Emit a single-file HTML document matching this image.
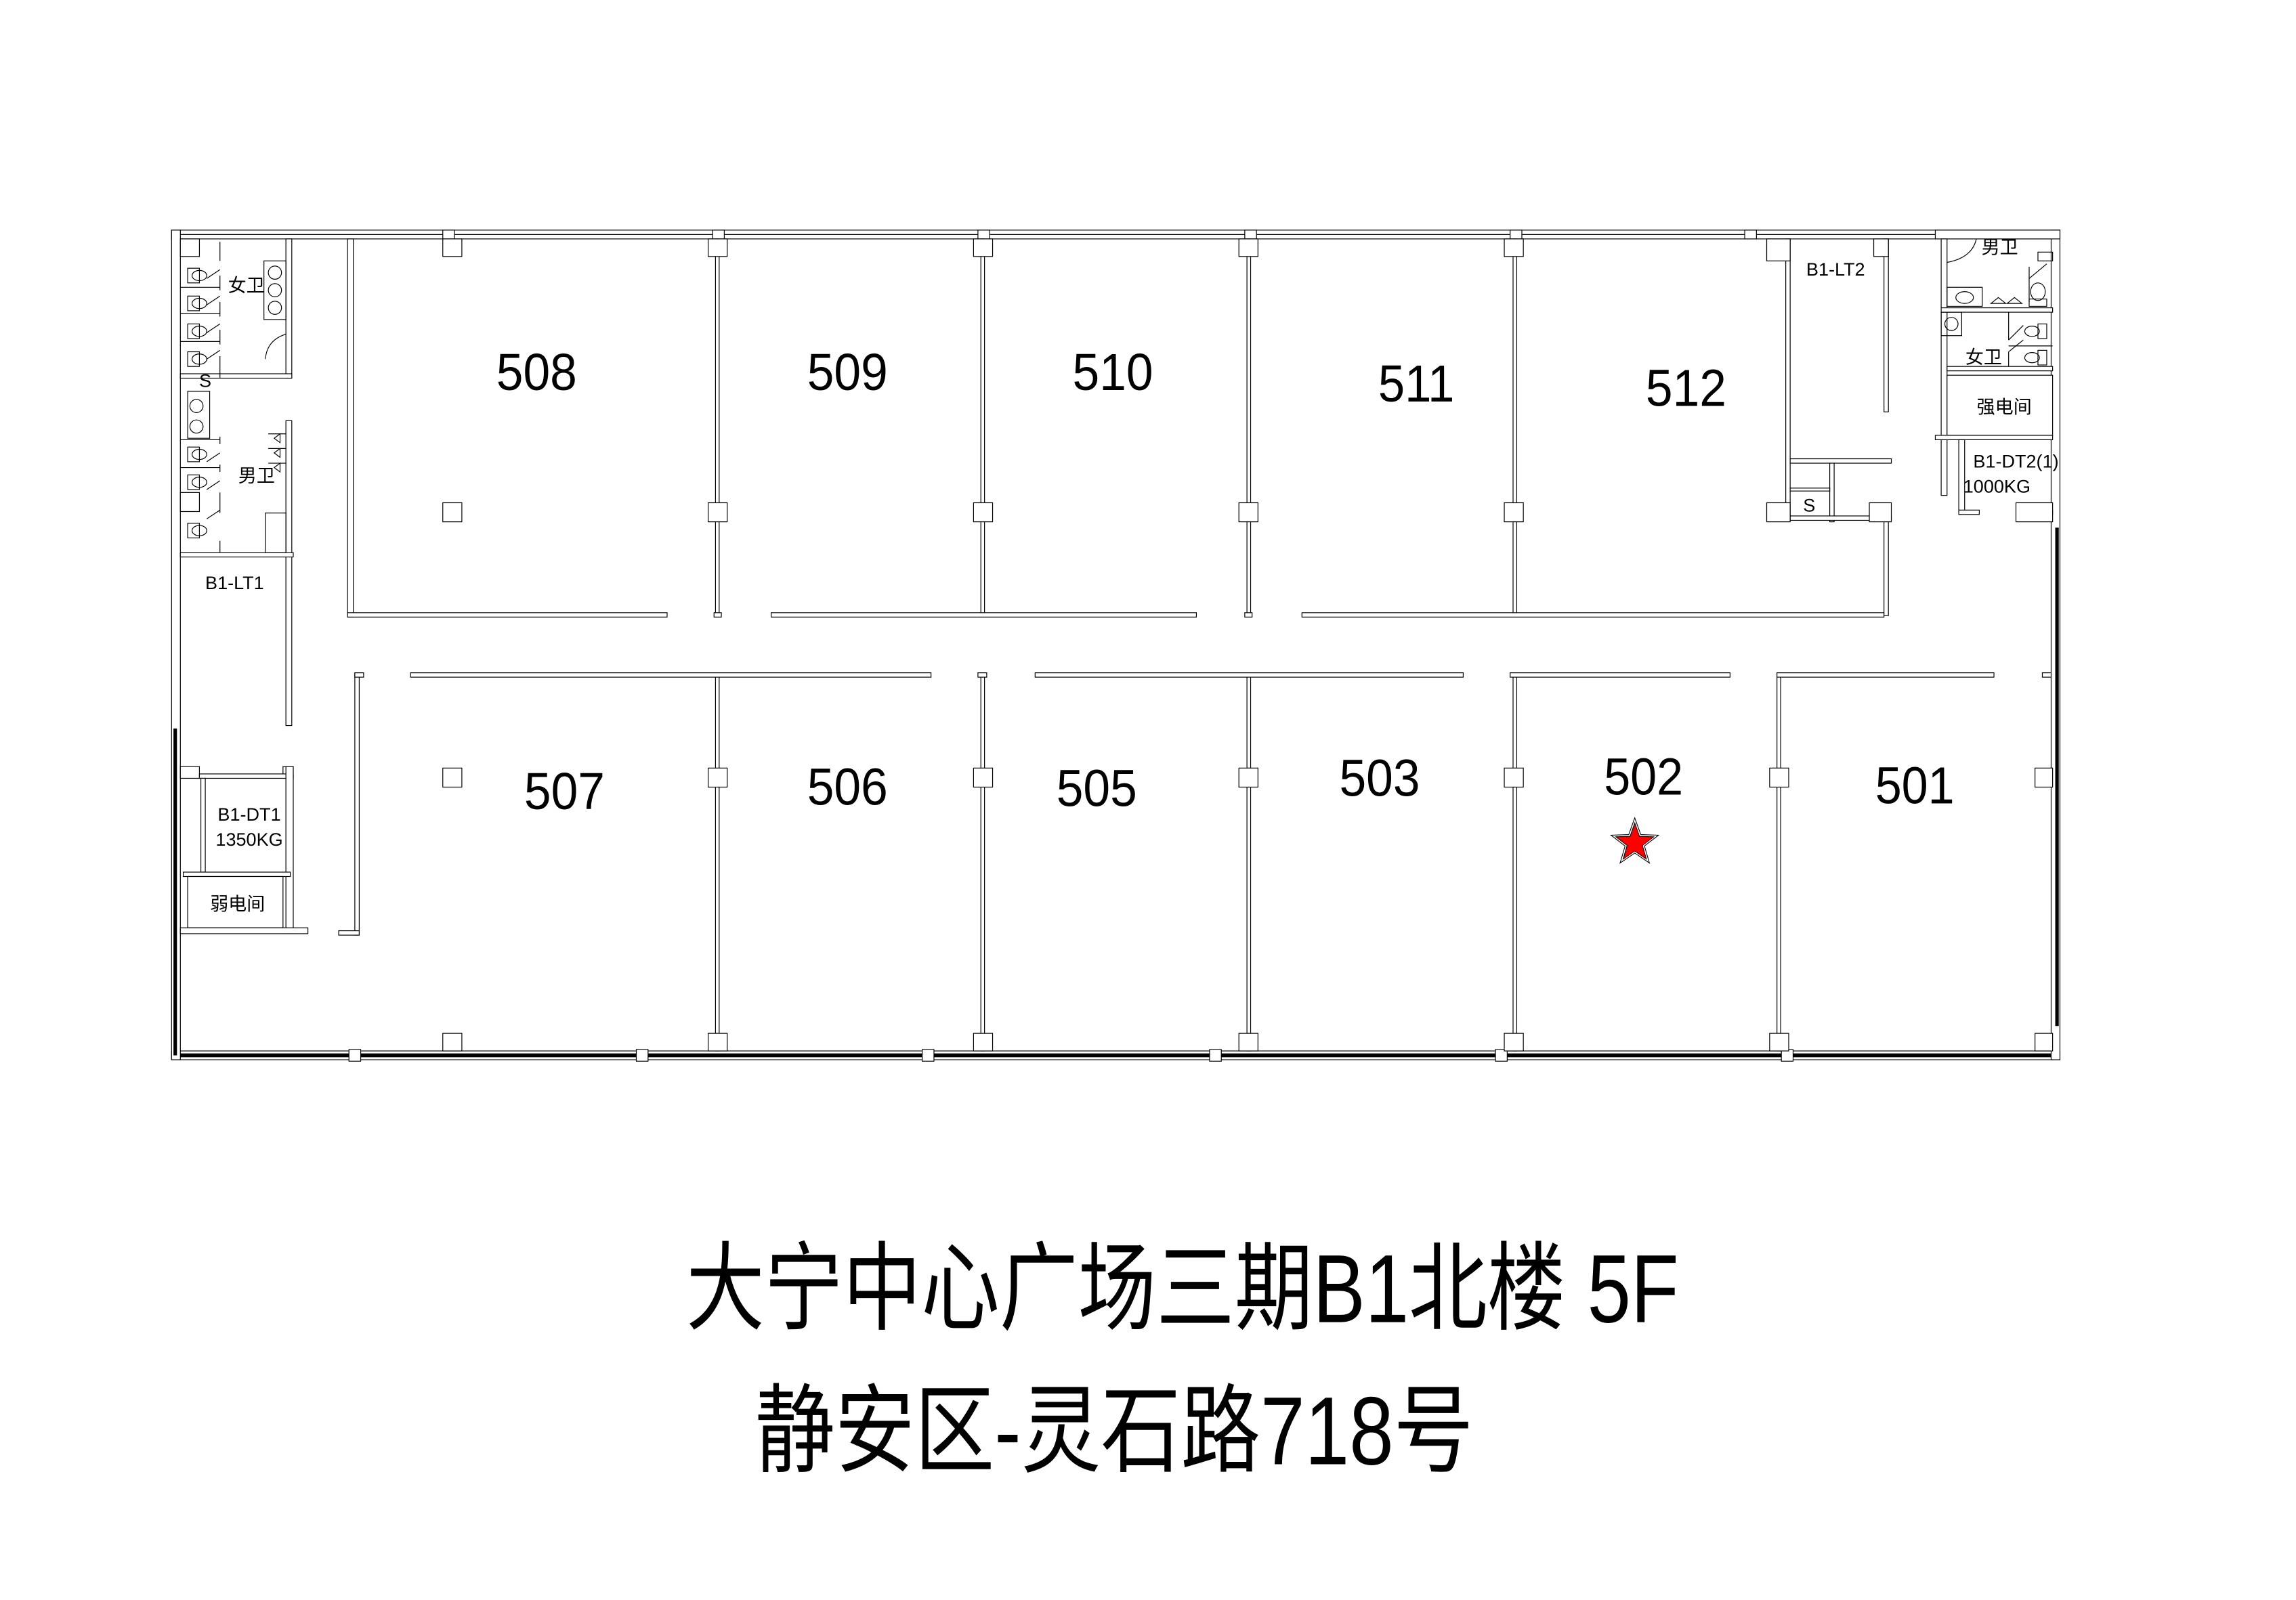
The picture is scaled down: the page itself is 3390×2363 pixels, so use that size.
<!DOCTYPE html>
<html><head><meta charset="utf-8"><style>
html,body{margin:0;padding:0;background:#fff;}
svg{display:block;}
.w{fill:#fff;stroke:#000;stroke-width:0.55;}
.l{fill:none;stroke:#000;stroke-width:0.55;}
.n{font-family:"Liberation Sans",sans-serif;font-size:35.5px;fill:#000;text-anchor:middle;}
.s{font-family:"Liberation Sans","Noto Sans CJK SC",sans-serif;font-size:12.5px;fill:#000;text-anchor:middle;}
.t{font-family:"Liberation Sans","Noto Sans CJK SC",sans-serif;font-size:66px;fill:#000;}
</style></head><body>
<svg width="3390" height="2363" viewBox="0 0 1566 1091.6" xmlns="http://www.w3.org/2000/svg">
<rect width="1566" height="1092" fill="#fff"/>
<!-- outer walls -->
<rect class="w" x="117" y="157" width="1288" height="6"/>
<line class="l" x1="117" y1="160" x2="1405" y2="160"/>
<rect class="w" x="117" y="717" width="1288" height="6"/>
<line x1="123" y1="720" x2="1400" y2="720" stroke="#000" stroke-width="2.6"/>
<rect class="w" x="117" y="157" width="6" height="566"/>
<line x1="119.5" y1="497" x2="119.5" y2="720" stroke="#000" stroke-width="2.4"/>
<rect class="w" x="1399" y="157" width="6" height="566"/>
<line x1="1403" y1="360" x2="1403" y2="700" stroke="#000" stroke-width="2.4"/>
<!-- window mullion gaps on bottom -->
<g class="w">
<rect x="238" y="716" width="8" height="8"/><rect x="434" y="716" width="8" height="8"/><rect x="629" y="716" width="8" height="8"/><rect x="825" y="716" width="8" height="8"/><rect x="1020" y="716" width="8" height="8"/><rect x="1215" y="716" width="8" height="8"/>
<rect x="302" y="157" width="8" height="6"/><rect x="486" y="157" width="8" height="6"/><rect x="667" y="157" width="8" height="6"/><rect x="849" y="157" width="8" height="6"/><rect x="1030" y="157" width="8" height="6"/><rect x="1190" y="157" width="8" height="6"/>
</g>

<!-- top rooms -->
<rect class="w" x="237" y="163" width="4" height="258"/>
<rect class="w" x="237" y="418" width="218" height="3"/>
<rect class="w" x="526" y="418" width="290" height="3"/>
<rect class="w" x="888" y="418" width="397" height="3"/>
<rect class="w" x="487" y="418" width="5" height="3"/>
<rect class="w" x="849" y="418" width="5" height="3"/>
<g class="w">
<rect x="488" y="163" width="2.5" height="255"/>
<rect x="669" y="163" width="2.5" height="255"/>
<rect x="850.5" y="163" width="2.5" height="255"/>
<rect x="1032" y="163" width="2.5" height="255"/>
</g>
<!-- top columns -->
<g class="w">
<rect x="302" y="163" width="13" height="12"/><rect x="302" y="343" width="13" height="13"/>
<rect x="483" y="163" width="13" height="12"/><rect x="483" y="343" width="13" height="13"/>
<rect x="664" y="163" width="13" height="12"/><rect x="664" y="343" width="13" height="13"/>
<rect x="845" y="163" width="13" height="12"/><rect x="845" y="343" width="13" height="13"/>
<rect x="1026" y="163" width="13" height="12"/><rect x="1026" y="343" width="13" height="13"/>
</g>

<!-- bottom rooms -->
<rect class="w" x="280" y="459" width="355" height="3"/>
<rect class="w" x="706" y="459" width="292" height="3"/>
<rect class="w" x="1030" y="459" width="150" height="3"/>
<rect class="w" x="1212" y="459" width="148" height="3"/>
<rect class="w" x="667" y="459" width="6" height="3"/>
<rect class="w" x="1393" y="459" width="6" height="3"/>
<rect class="w" x="242" y="459" width="3" height="179"/>
<rect class="w" x="242" y="459" width="6" height="3"/>
<rect class="w" x="231" y="635" width="14" height="3"/>
<g class="w">
<rect x="488" y="462" width="2.5" height="255"/>
<rect x="669" y="462" width="2.5" height="255"/>
<rect x="850.5" y="462" width="2.5" height="255"/>
<rect x="1032" y="462" width="2.5" height="255"/>
<rect x="1212" y="462" width="2.5" height="255"/>
</g>
<g class="w">
<rect x="302" y="524" width="13" height="13"/><rect x="302" y="705" width="13" height="12"/>
<rect x="483" y="524" width="13" height="13"/><rect x="483" y="705" width="13" height="12"/>
<rect x="664" y="524" width="13" height="13"/><rect x="664" y="705" width="13" height="12"/>
<rect x="845" y="524" width="13" height="13"/><rect x="845" y="705" width="13" height="12"/>
<rect x="1026" y="524" width="13" height="13"/><rect x="1026" y="705" width="13" height="12"/>
<rect x="1207" y="524" width="13" height="13"/><rect x="1207" y="705" width="13" height="12"/>
<rect x="1388" y="524" width="12" height="13"/><rect x="1388" y="705" width="12" height="12"/>
</g>

<!-- left service block -->
<rect class="w" x="195" y="163" width="4" height="95"/>
<rect class="w" x="195" y="287" width="4" height="208"/>
<rect class="w" x="123" y="255" width="76" height="3"/>
<rect class="w" x="123" y="377" width="77" height="3"/>
<rect class="w" x="123" y="163" width="13" height="12"/>
<rect class="w" x="123" y="336" width="13" height="13"/>
<!-- women stalls -->
<g class="l">
<line x1="123" y1="196" x2="150" y2="196"/><line x1="123" y1="214" x2="150" y2="214"/><line x1="123" y1="233" x2="150" y2="233"/>
<line x1="150" y1="165" x2="150" y2="178"/><line x1="150" y1="188" x2="150" y2="198"/><line x1="150" y1="206" x2="150" y2="216"/><line x1="150" y1="225" x2="150" y2="235"/><line x1="150" y1="243" x2="150" y2="258"/>
<line x1="141" y1="190" x2="150" y2="184"/><line x1="141" y1="208" x2="150" y2="202"/><line x1="141" y1="227" x2="150" y2="221"/><line x1="141" y1="245" x2="150" y2="239"/>
</g>
<g class="l">
<rect x="128" y="183" width="8" height="10"/><ellipse cx="136" cy="188" rx="5" ry="3.5"/>
<rect x="128" y="202" width="8" height="10"/><ellipse cx="136" cy="207" rx="5" ry="3.5"/>
<rect x="128" y="221" width="8" height="10"/><ellipse cx="136" cy="226" rx="5" ry="3.5"/>
<rect x="128" y="240" width="8" height="10"/><ellipse cx="136" cy="245" rx="5" ry="3.5"/>
<rect x="180" y="178" width="15" height="40"/>
<circle cx="187.5" cy="186" r="4.5"/><circle cx="187.5" cy="198" r="4.5"/><circle cx="187.5" cy="210" r="4.5"/>
<path d="M195 228 Q182 232 181 245"/>
</g>
<text class="s" x="168" y="199">女卫</text>
<text class="s" x="140" y="264" font-size="10">S</text>
<!-- men -->
<g class="l">
<rect x="128" y="267" width="15" height="32"/>
<circle cx="134" cy="277" r="4.5"/><circle cx="134" cy="291" r="4.5"/>
<line x1="123" y1="300" x2="150" y2="300"/><line x1="123" y1="319" x2="150" y2="319"/>
<line x1="150" y1="298" x2="150" y2="303"/><line x1="150" y1="317" x2="150" y2="322"/><line x1="150" y1="336" x2="150" y2="350"/><line x1="150" y1="369" x2="150" y2="377"/>
<line x1="141" y1="315" x2="150" y2="309"/><line x1="141" y1="334" x2="150" y2="328"/><line x1="141" y1="354" x2="150" y2="348"/>
<rect x="128" y="305" width="8" height="10"/><ellipse cx="136" cy="310" rx="5" ry="3.5"/>
<rect x="128" y="324" width="8" height="10"/><ellipse cx="136" cy="329" rx="5" ry="3.5"/>
<rect x="128" y="357" width="8" height="10"/><ellipse cx="136" cy="362" rx="5" ry="3.5"/>
<path d="M191 296 l-4 3 4 3z M191 306 l-4 3 4 3z M191 316 l-4 3 4 3z"/>
<line x1="183" y1="296" x2="195" y2="296"/><line x1="183" y1="306" x2="195" y2="306"/><line x1="183" y1="316" x2="195" y2="316"/>
<rect x="181" y="350" width="14" height="27"/>
</g>
<text class="s" x="175" y="329">男卫</text>
<text class="s" x="160" y="402" font-size="12">B1-LT1</text>
<!-- DT1 -->
<rect class="w" x="123" y="523" width="13" height="8"/>
<rect class="w" x="193" y="523" width="7" height="8"/>
<rect class="w" x="136" y="528" width="64" height="3"/>
<rect class="w" x="137" y="531" width="3" height="64"/>
<rect class="w" x="195" y="523" width="5" height="114"/>
<rect class="w" x="125" y="595" width="73" height="3"/>
<rect class="w" x="128" y="598" width="65" height="35"/>
<rect class="w" x="123" y="633" width="87" height="4"/>
<text class="s" x="170" y="560" font-size="12.5">B1-DT1</text>
<text class="s" x="170" y="577" font-size="12.5">1350KG</text>
<text class="s" x="162" y="621" font-size="12">弱电间</text>

<!-- LT2 -->
<rect class="w" x="1218" y="163" width="3" height="192"/>
<rect class="w" x="1205" y="163" width="16" height="15"/>
<rect class="w" x="1285" y="163" width="3" height="118"/>
<rect class="w" x="1278" y="163" width="10" height="12"/>
<rect class="w" x="1221" y="313" width="69" height="3"/>
<rect class="w" x="1248" y="316" width="3" height="40"/>
<rect class="w" x="1221" y="333" width="27" height="2"/>
<rect class="w" x="1221" y="352" width="69" height="3"/>
<rect class="w" x="1205" y="343" width="16" height="13"/>
<rect class="w" x="1275" y="343" width="15" height="13"/>
<rect class="w" x="1285" y="356" width="3" height="64"/>
<text class="s" x="1252" y="188" font-size="13">B1-LT2</text>
<text class="s" x="1234" y="349" font-size="11">S</text>

<!-- right service block -->
<rect class="w" x="1320" y="157" width="85" height="6"/>
<rect class="w" x="1324" y="163" width="4" height="175"/>
<rect class="w" x="1324" y="210" width="76" height="3"/>
<rect class="w" x="1328" y="250" width="72" height="3"/>
<rect class="w" x="1328" y="256" width="72" height="41"/>
<rect class="w" x="1320" y="297" width="80" height="3"/>
<rect class="w" x="1336" y="300" width="4" height="50"/>
<rect class="w" x="1336" y="348" width="14" height="3"/>
<rect class="w" x="1381" y="348" width="19" height="3"/>
<rect class="w" x="1375" y="343" width="25" height="13"/>
<g class="l">
<path d="M1328 179 Q1345 176 1348 163"/>
<rect x="1328" y="196" width="24" height="13"/><ellipse cx="1340" cy="203" rx="6" ry="4"/>
<path d="M1358 207 l5 -4 5 4z M1369 207 l5 -4 5 4z"/>
<ellipse cx="1390" cy="199" rx="5" ry="6"/><rect x="1384" y="204" width="12" height="5"/>
<line x1="1384" y1="206" x2="1384" y2="182"/><line x1="1384" y1="190" x2="1396" y2="180"/>
<rect x="1390" y="172" width="10" height="6"/>
<line x1="1370" y1="213" x2="1370" y2="232"/><line x1="1370" y1="232" x2="1380" y2="222"/>
<line x1="1370" y1="236" x2="1400" y2="236"/><line x1="1370" y1="240" x2="1370" y2="250"/><line x1="1370" y1="240" x2="1380" y2="232"/>
<ellipse cx="1386" cy="226" rx="5" ry="3.5"/><rect x="1390" y="221" width="6" height="10"/>
<ellipse cx="1386" cy="244" rx="5" ry="3.5"/><rect x="1390" y="239" width="6" height="10"/>
<rect x="1324" y="213" width="14" height="16"/><circle cx="1331" cy="221" r="4.5"/>
</g>
<text class="s" x="1364" y="173" font-size="12.5">男卫</text>
<text class="s" x="1353" y="248" font-size="12.5">女卫</text>
<text class="s" x="1367" y="282" font-size="12.5">强电间</text>
<text class="s" x="1375" y="319" font-size="13">B1-DT2(1)</text>
<text class="s" x="1362" y="336" font-size="13">1000KG</text>

<!-- room numbers -->
<g class="n">
<text x="366" y="266" textLength="55" lengthAdjust="spacingAndGlyphs">508</text>
<text x="578" y="266" textLength="55" lengthAdjust="spacingAndGlyphs">509</text>
<text x="759" y="266" textLength="55" lengthAdjust="spacingAndGlyphs">510</text>
<text x="966" y="274" textLength="52" lengthAdjust="spacingAndGlyphs">511</text>
<text x="1150" y="277" textLength="55" lengthAdjust="spacingAndGlyphs">512</text>
<text x="385" y="552" textLength="55" lengthAdjust="spacingAndGlyphs">507</text>
<text x="578" y="549" textLength="55" lengthAdjust="spacingAndGlyphs">506</text>
<text x="748" y="550" textLength="55" lengthAdjust="spacingAndGlyphs">505</text>
<text x="941" y="543" textLength="55" lengthAdjust="spacingAndGlyphs">503</text>
<text x="1121" y="542" textLength="54" lengthAdjust="spacingAndGlyphs">502</text>
<text x="1306" y="548" textLength="54" lengthAdjust="spacingAndGlyphs">501</text>
</g>

<!-- star -->
<polygon points="1115,558 1119.1,569.4 1131.2,569.8 1121.6,577.2 1125,588.8 1115,582 1105,588.8 1108.4,577.2 1098.8,569.8 1110.9,569.4" fill="#fff" stroke="#000" stroke-width="0.5"/>
<polygon points="1115,561.5 1118.2,570.6 1127.9,570.9 1120.2,576.8 1122.9,586.1 1115,580.6 1107.1,586.1 1109.8,576.8 1102.1,570.9 1111.8,570.6" fill="#f00" stroke="#000" stroke-width="0.5"/>

<!-- titles -->
<text class="t" x="468" y="902" textLength="677" lengthAdjust="spacingAndGlyphs">大宁中心广场三期B1北楼 5F</text>
<text class="t" x="515" y="999" textLength="490" lengthAdjust="spacingAndGlyphs">静安区-灵石路718号</text>
</svg>
</body></html>
